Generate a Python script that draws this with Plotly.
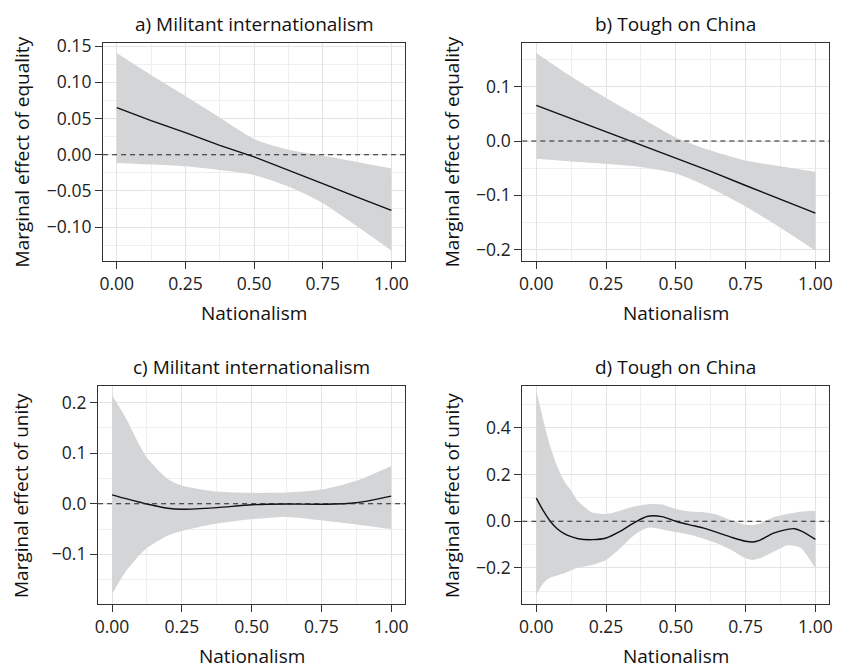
import plotly.graph_objects as go

W, H = 841, 670
FONT = "Open Sans"

# ---------------- data ----------------
# Panel a) Militant internationalism – marginal effect of equality
a_x = [0, 0.125, 0.25, 0.375, 0.5, 0.625, 0.75, 0.875, 1.0]
a_est = [0.065, 0.047, 0.0305, 0.013, -0.003, -0.021, -0.040, -0.0585, -0.077]
a_hi = [0.1405, 0.110, 0.081, 0.0514, 0.0218, 0.007, -0.001, -0.010, -0.019]
a_lo = [-0.0113, -0.0135, -0.016, -0.021, -0.028, -0.044, -0.067, -0.099, -0.1327]

# Panel b) Tough on China – marginal effect of equality
b_x = [0, 0.125, 0.25, 0.375, 0.5, 0.625, 0.75, 0.875, 1.0]
b_est = [0.066, 0.0415, 0.017, -0.007, -0.031, -0.056, -0.082, -0.1075, -0.133]
b_hi = [0.1625, 0.119, 0.0795, 0.043, 0.0067, -0.0175, -0.036, -0.0466, -0.057]
b_lo = [-0.0327, -0.0375, -0.042, -0.048, -0.060, -0.087, -0.1206, -0.16, -0.2024]

# Panel c) Militant internationalism – marginal effect of unity
c_x = [0, 0.05, 0.1, 0.125, 0.2, 0.25, 0.375, 0.5, 0.625, 0.75, 0.875, 1.0]
c_est = [0.0176, 0.010, 0.003, -0.0006, -0.009, -0.011, -0.0077, -0.002, -0.0006, -0.001, 0.002, 0.015]
c_hi = [0.2144, 0.169, 0.114, 0.091, 0.049, 0.036, 0.024, 0.0215, 0.022, 0.028, 0.0456, 0.0748]
c_lo = [-0.1786, -0.133, -0.1006, -0.0877, -0.063, -0.0539, -0.039, -0.0305, -0.026, -0.0325, -0.041, -0.05]

# Panel d) Tough on China – marginal effect of unity
d_x = [0, 0.025, 0.05, 0.075, 0.1, 0.125, 0.15, 0.2, 0.25, 0.3, 0.35, 0.4, 0.45,
       0.5, 0.55, 0.6, 0.65, 0.7, 0.75, 0.775, 0.8, 0.85, 0.9, 0.925, 0.95, 1.0]
d_est = [0.0986, 0.045, 0.0, -0.032, -0.053, -0.066, -0.075, -0.079, -0.072, -0.044,
         -0.007, 0.021, 0.0197, 0.0, -0.0155, -0.0296, -0.049, -0.069, -0.086, -0.089,
         -0.082, -0.051, -0.035, -0.032, -0.042, -0.0775]
d_hi = [0.559, 0.433, 0.32, 0.235, 0.172, 0.130, 0.085, 0.038, 0.031, 0.045, 0.063,
        0.073, 0.071, 0.052, 0.041, 0.038, 0.027, 0.003, -0.0155, -0.016, -0.011, 0.017,
        0.031, 0.036, 0.041, 0.045]
d_lo = [-0.314, -0.265, -0.241, -0.232, -0.223, -0.21, -0.198, -0.187, -0.166, -0.117,
        -0.060, -0.028, -0.035, -0.0465, -0.058, -0.075, -0.096, -0.124, -0.159, -0.166,
        -0.159, -0.131, -0.103, -0.105, -0.117, -0.202]

titles = ["a) Militant internationalism", "b) Tough on China",
          "c) Militant internationalism", "d) Tough on China"]
y_titles = ["Marginal effect of equality", "Marginal effect of equality",
            "Marginal effect of unity", "Marginal effect of unity"]
x_title = "Nationalism"

x_ticks = [0, 0.25, 0.5, 0.75, 1.0]
x_ticktext = ["0.00", "0.25", "0.50", "0.75", "1.00"]
a_yticks = [-0.10, -0.05, 0.0, 0.05, 0.10, 0.15]
a_yticktext = ["\u22120.10", "\u22120.05", "0.00", "0.05", "0.10", "0.15"]
b_yticks = [-0.2, -0.1, 0.0, 0.1]
b_yticktext = ["\u22120.2", "\u22120.1", "0.0", "0.1"]
c_yticks = [-0.1, 0.0, 0.1, 0.2]
c_yticktext = ["\u22120.1", "0.0", "0.1", "0.2"]
d_yticks = [-0.2, 0.0, 0.2, 0.4]
d_yticktext = ["\u22120.2", "0.0", "0.2", "0.4"]

# ---------------- layout geometry (pixels) ----------------
panels = [
    dict(x=a_x, est=a_est, hi=a_hi, lo=a_lo, yt=a_yticks, ytt=a_yticktext,
         yr=[-0.1463, 0.155], ydt_minor=0.025,
         px=(100, 405), py=(34, 255), ytx=18),
    dict(x=b_x, est=b_est, hi=b_hi, lo=b_lo, yt=b_yticks, ytt=b_yticktext,
         yr=[-0.2205, 0.1818], ydt_minor=0.05,
         px=(523.3, 833.3), py=(34, 255), ytx=452),
    dict(x=c_x, est=c_est, hi=c_hi, lo=c_lo, yt=c_yticks, ytt=c_yticktext,
         yr=[-0.1986, 0.2325], ydt_minor=0.05,
         px=(95, 405), py=(382.3, 603.3), ytx=17),
    dict(x=d_x, est=d_est, hi=d_hi, lo=d_lo, yt=d_yticks, ytt=d_yticktext,
         yr=[-0.355, 0.5776], ydt_minor=0.1,
         px=(523.3, 833.3), py=(382.3, 603.3), ytx=452),
]

BAND = "#D4D5D7"
GRID_MAJ = "#E3E3E3"
GRID_MIN = "#EFEFEF"
AXC = "#333333"
TICKF = dict(size=17.5, color="#222222", family=FONT)
TITLEF = dict(size=19, color="#111111", family=FONT)

fig = go.Figure()
layout = dict(width=W, height=H, margin=dict(l=0, r=0, t=0, b=0),
              paper_bgcolor="white", plot_bgcolor="white", showlegend=False,
              font=dict(family=FONT, color="#222222"))
annotations = []
shapes = []

for i, p in enumerate(panels, start=1):
    xa = "x" if i == 1 else f"x{i}"
    ya = "y" if i == 1 else f"y{i}"
    fig.add_trace(go.Scatter(x=p["x"], y=p["lo"], xaxis=xa, yaxis=ya, mode="lines",
                             line=dict(width=0, shape="spline", smoothing=0.7, color=BAND),
                             hoverinfo="skip"))
    fig.add_trace(go.Scatter(x=p["x"], y=p["hi"], xaxis=xa, yaxis=ya, mode="lines",
                             line=dict(width=0, shape="spline", smoothing=0.7, color=BAND),
                             fill="tonexty", fillcolor=BAND, hoverinfo="skip"))
    fig.add_trace(go.Scatter(x=p["x"], y=p["est"], xaxis=xa, yaxis=ya, mode="lines",
                             line=dict(width=1.4, color="#111111",
                                       shape="spline" if i >= 3 else "linear",
                                       smoothing=0.8)))
    shapes.append(dict(type="line", xref=f"{xa} domain", yref=ya, x0=0, x1=1, y0=0, y1=0,
                       line=dict(color="#222222", width=1.1, dash="5px,4px"), layer="above"))

    x0, x1 = p["px"]
    t0, t1 = p["py"]
    xdom = [x0 / W, x1 / W]
    ydom = [1 - t1 / H, 1 - t0 / H]
    kx = "xaxis" if i == 1 else f"xaxis{i}"
    ky = "yaxis" if i == 1 else f"yaxis{i}"
    layout[kx] = dict(domain=xdom, anchor=ya, range=[-0.05, 1.05], tickvals=x_ticks,
                      ticktext=x_ticktext, ticks="outside", ticklen=7, tickwidth=1.3,
                      tickcolor=AXC, showline=True, mirror=True, linecolor=AXC,
                      linewidth=1.3, showgrid=True, gridcolor=GRID_MAJ, gridwidth=1.2,
                      zeroline=False, tickfont=TICKF,
                      minor=dict(dtick=0.125, tick0=0, showgrid=True, gridcolor=GRID_MIN,
                                 gridwidth=0.8, ticks=""))
    layout[ky] = dict(domain=ydom, anchor=xa, range=p["yr"], tickvals=p["yt"],
                      ticktext=p["ytt"], ticks="outside", ticklen=7, tickwidth=1.3,
                      tickcolor=AXC, showline=True, mirror=True, linecolor=AXC,
                      linewidth=1.3, showgrid=True, gridcolor=GRID_MAJ, gridwidth=1.2,
                      zeroline=False, tickfont=TICKF,
                      minor=dict(dtick=p["ydt_minor"], tick0=0, showgrid=True,
                                 gridcolor=GRID_MIN, gridwidth=0.8, ticks=""))

    cx = (x0 + x1) / 2 / W
    annotations.append(dict(text=titles[i - 1], xref="paper", yref="paper", x=cx,
                            y=1 - (t0 - 19) / H, xanchor="center", yanchor="middle",
                            showarrow=False, font=TITLEF))
    annotations.append(dict(text=x_title, xref="paper", yref="paper", x=cx,
                            y=1 - (t1 + 53) / H, xanchor="center", yanchor="middle",
                            showarrow=False, font=TITLEF))
    annotations.append(dict(text=y_titles[i - 1], xref="paper", yref="paper",
                            x=p["ytx"] / W, y=1 - (t0 + t1) / 2 / H, xanchor="center",
                            yanchor="middle", textangle=-90, showarrow=False,
                            font=TITLEF))

layout["annotations"] = annotations
layout["shapes"] = shapes
fig.update_layout(**layout)
fig.write_html("out.html")
